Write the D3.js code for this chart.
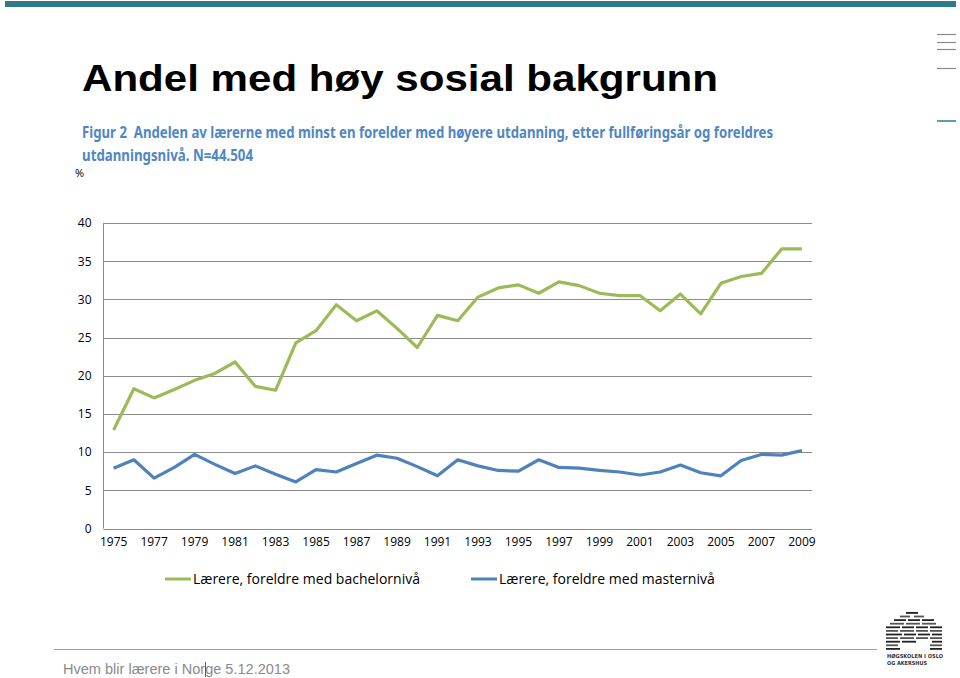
<!DOCTYPE html>
<html>
<head>
<meta charset="utf-8">
<script src="https://cdn.jsdelivr.net/npm/d3@7/dist/d3.min.js"></script>
<style>
html,body{margin:0;padding:0;background:#fff;}
svg{display:block;}
</style>
</head>
<body>
<script>
const years = d3.range(1975, 2010);
const bachelor = [12.9,18.3,17.1,18.2,19.4,20.3,21.8,18.6,18.1,24.3,25.9,29.3,27.2,28.5,26.2,23.7,27.9,27.2,30.3,31.5,31.9,30.8,32.3,31.8,30.8,30.5,30.5,28.5,30.7,28.1,32.1,33.0,33.4,36.6,36.6];
const master = [7.9,9.0,6.6,8.0,9.7,8.4,7.2,8.2,7.1,6.1,7.7,7.4,8.5,9.6,9.2,8.1,6.9,9.0,8.2,7.6,7.5,9.0,8.0,7.9,7.6,7.4,7.0,7.4,8.3,7.3,6.9,8.9,9.7,9.6,10.2];
const yTicks = [0,5,10,15,20,25,30,35,40];
const xTickYears = d3.range(1975, 2010, 2);
const seriesNames = ["Lærere, foreldre med bachelornivå", "Lærere, foreldre med masternivå"];
const seriesColors = ["#9bbb59", "#4f81bd"];

(function () {
const W = 960, H = 678;
const svg = d3.select("body").append("svg").attr("width", W).attr("height", H);

// top band
svg.append("rect").attr("x", 5).attr("y", 1).attr("width", 951).attr("height", 6).attr("fill", "#31788a");
// right side small lines
[34.5, 42.5, 49.5, 68.5].forEach(yy => {
  svg.append("line").attr("x1", 937).attr("x2", 956).attr("y1", yy).attr("y2", yy).attr("stroke", "#8a8a8a").attr("stroke-width", 1.2);
});
svg.append("line").attr("x1", 937).attr("x2", 956).attr("y1", 121).attr("y2", 121).attr("stroke", "#31788a").attr("stroke-width", 1.5);

// title
svg.append("text").attr("x", 82).attr("y", 91)
  .attr("font-family", "Liberation Sans, Arial, sans-serif").attr("font-weight", "bold")
  .attr("font-size", 37).attr("fill", "#000")
  .attr("textLength", 636).attr("lengthAdjust", "spacingAndGlyphs")
  .text("Andel med høy sosial bakgrunn");

// subtitle
const subColor = "#4f86c6";
svg.append("text").attr("x", 82).attr("y", 138)
  .attr("font-family", "Noto Sans, sans-serif").attr("font-weight", "bold")
  .attr("font-size", 16).attr("fill", subColor)
  .attr("textLength", 691).attr("lengthAdjust", "spacingAndGlyphs")
  .text("Figur 2\u00a0\u00a0Andelen av lærerne med minst en forelder med høyere utdanning, etter fullføringsår og foreldres");
svg.append("text").attr("x", 82).attr("y", 161)
  .attr("font-family", "Noto Sans, sans-serif").attr("font-weight", "bold")
  .attr("font-size", 16).attr("fill", subColor)
  .attr("textLength", 171).attr("lengthAdjust", "spacingAndGlyphs")
  .text("utdanningsnivå. N=44.504");
svg.append("text").attr("x", 75).attr("y", 177)
  .attr("font-family", "Open Sans, sans-serif").attr("font-size", 11).attr("fill", "#000")
  .text("%");

// chart
const pLeft = 103.5, pRight = 812, pTop = 223, pBottom = 528.5;
const x = d3.scaleBand().domain(years).range([pLeft, pRight]).padding(0);
const y = d3.scaleLinear().domain([0, 40]).range([pBottom, pTop]);
const cx = d => x(d) + x.bandwidth() / 2;

const grid = svg.append("g");
grid.selectAll("line").data(yTicks).join("line")
  .attr("x1", pLeft).attr("x2", pRight)
  .attr("y1", d => Math.round(y(d)) + 0.5).attr("y2", d => Math.round(y(d)) + 0.5)
  .attr("stroke", "#8c8c8c").attr("stroke-width", 1);
svg.append("line").attr("x1", pLeft).attr("x2", pLeft).attr("y1", y(40)).attr("y2", y(0))
  .attr("stroke", "#8c8c8c").attr("stroke-width", 1);

const yAxis = svg.append("g").attr("transform", `translate(${pLeft - 12},0)`)
  .call(d3.axisLeft(y).tickValues(yTicks).tickSize(0).tickPadding(0));
yAxis.select(".domain").remove();
yAxis.selectAll("text").attr("font-family", "Open Sans, sans-serif").attr("font-size", 12).attr("fill", "#000");

const xAxis = svg.append("g").attr("transform", `translate(0,${pBottom + 9})`)
  .call(d3.axisBottom(x).tickValues(xTickYears).tickSize(0).tickPadding(0));
xAxis.select(".domain").remove();
xAxis.selectAll("text").attr("font-family", "Open Sans, sans-serif").attr("font-size", 12).attr("fill", "#000");

const line = d3.line().x((d, i) => cx(years[i])).y(d => y(d));
[bachelor, master].forEach((s, i) => {
  svg.append("path").datum(s).attr("d", line)
    .attr("fill", "none").attr("stroke", seriesColors[i]).attr("stroke-width", 3.2)
    .attr("stroke-linejoin", "round");
});

// legend
const legendPos = [{lx: 165, tx: 193}, {lx: 471, tx: 499}];
seriesNames.forEach((n, i) => {
  const p = legendPos[i];
  svg.append("line").attr("x1", p.lx).attr("x2", p.lx + 26).attr("y1", 579).attr("y2", 579)
    .attr("stroke", seriesColors[i]).attr("stroke-width", 3);
  svg.append("text").attr("x", p.tx).attr("y", 584)
    .attr("font-family", "Open Sans, sans-serif").attr("font-size", 14).attr("fill", "#000")
    .text(n);
});

// footer
svg.append("line").attr("x1", 54).attr("x2", 877).attr("y1", 649.5).attr("y2", 649.5)
  .attr("stroke", "#a0a0a0").attr("stroke-width", 1);
svg.append("text").attr("x", 63).attr("y", 674)
  .attr("font-family", "Liberation Sans, Arial, sans-serif").attr("font-size", 14).attr("fill", "#8a8a8a")
  .attr("textLength", 227).attr("lengthAdjust", "spacingAndGlyphs")
  .text("Hvem blir lærere i Norge 5.12.2013");
svg.append("line").attr("x1", 205.5).attr("x2", 205.5).attr("y1", 662).attr("y2", 677)
  .attr("stroke", "#3e6a78").attr("stroke-width", 1);

// logo
const logo = svg.append("g").attr("transform", "translate(886,612)");
const rows = [
  [[20,12]],
  [[14,10],[28,10]],
  [[8,12],[22,12],[36,12]],
  [[4,14],[20,14],[36,14]],
  [[0,14],[16,12],[30,12],[44,12]],
  [[0,12],[14,14],[30,12],[44,12]],
  [[0,16],[18,12],[32,12],[46,10]],
  [[0,12],[14,14],[30,12],[44,12]],
  [[0,14],[16,14],[46,10]],
  [[0,12],[44,12]],
  [[0,14],[44,12]]
];
rows.forEach((r, i) => {
  r.forEach(s => {
    logo.append("rect").attr("x", s[0]).attr("y", i * 3.6).attr("width", s[1]).attr("height", 1.8)
      .attr("fill", i % 2 ? "#555" : "#222");
  });
});
logo.append("text").attr("x", 1).attr("y", 46).attr("font-family", "DejaVu Sans, sans-serif")
  .attr("font-weight", "bold").attr("font-size", 5.5).attr("fill", "#333")
  .attr("textLength", 56).attr("lengthAdjust", "spacingAndGlyphs").text("HØGSKOLEN I OSLO");
logo.append("text").attr("x", 1).attr("y", 53).attr("font-family", "DejaVu Sans, sans-serif")
  .attr("font-weight", "bold").attr("font-size", 5.5).attr("fill", "#333")
  .attr("textLength", 40).attr("lengthAdjust", "spacingAndGlyphs").text("OG AKERSHUS");
})();
</script>
</body>
</html>
